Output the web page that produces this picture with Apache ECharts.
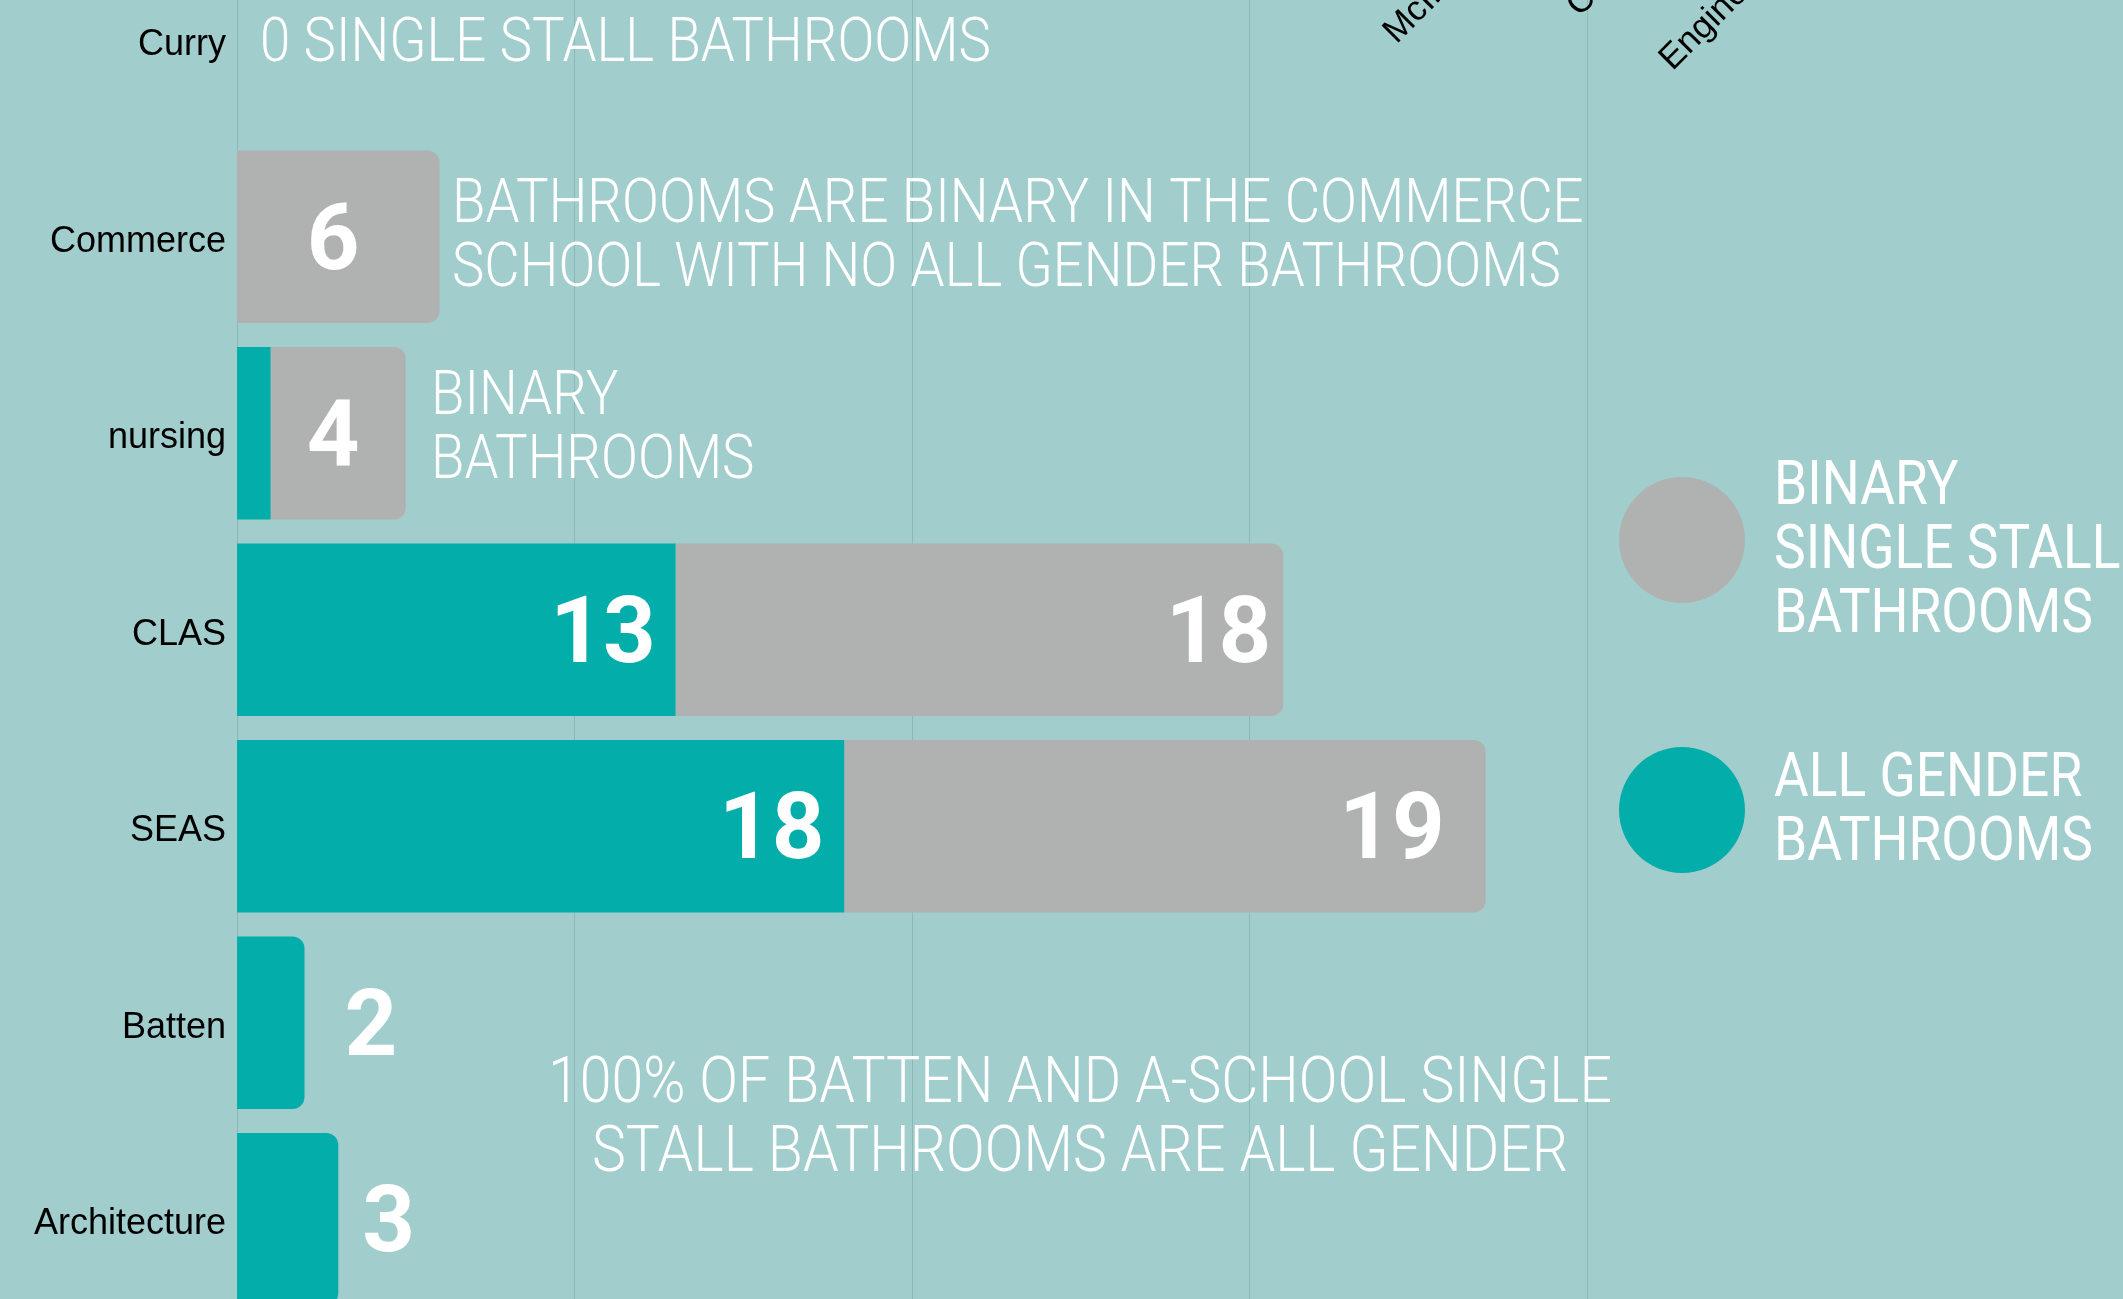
<!DOCTYPE html>
<html>
<head>
<meta charset="utf-8">
<title>Single stall bathrooms by school</title>
<script src="https://cdn.jsdelivr.net/npm/echarts@6/dist/echarts.min.js"></script>
<style>
  html, body { margin: 0; padding: 0; background: #a1cdcc; }
  #chart { width: 2123px; height: 1299px; }
</style>
</head>
<body>
<div id="chart"></div>
<script>
// schools, top to bottom
const schools = ['Curry', 'Commerce', 'nursing', 'CLAS', 'SEAS', 'Batten', 'Architecture'];
// single stall bathrooms per school
const allGender = [0, 0, 1, 13, 18, 2, 3];
const binary = [0, 6, 4, 18, 19, 0, 0];
// value axis
const xMin = 0;
const xMax = 40;
const xStep = 10;
// labels of the chart above, cut off by the picture
const topLabels = ['McIntire', 'Curry', 'Engineering'];

const BG = '#a1cdcc';
const TEAL = '#03adaa';
const GRAY = '#b0b2b1';
const LINE = '#8cb9b8';
const WHITE = '#ffffff';

// where the numbers go on each bar
const tealLabels = {
  CLAS: { position: 'insideRight', distance: 20 },
  SEAS: { position: 'insideRight', distance: 20 },
  Batten: { position: 'right', distance: 40 },
  Architecture: { position: 'right', distance: 24 }
};
const grayLabels = {
  Commerce: { position: 'inside', offset: [-5, 9] },
  nursing: { position: 'inside', offset: [-5, 9] },
  CLAS: { position: 'insideRight', distance: 12 },
  SEAS: { position: 'insideRight', distance: 41 }
};

const numLabel = {
  show: true,
  color: WHITE,
  fontFamily: 'Roboto',
  fontWeight: 'bold',
  fontSize: 92,
  offset: [0, 9],
  formatter: '{c}'
};
const roundEnd = [0, 12, 12, 0];

const labelFor = (cfg) => (cfg ? { ...numLabel, ...cfg } : { show: false });

// white condensed notes (Roboto squeezed a bit)
const note = (x, y, text, opts = {}) => ({
  type: 'text',
  x: x,
  y: y,
  scaleX: opts.squeeze || 0.88,
  z: 10,
  style: {
    text: text,
    fill: WHITE,
    fontFamily: 'Roboto',
    fontSize: opts.size || 62,
    fontWeight: opts.weight || 300,
    lineHeight: opts.lineHeight || 64,
    textAlign: opts.align || 'left',
    textVerticalAlign: 'middle'
  }
});

const tilted = (x, y, text) => ({
  type: 'text',
  x: x,
  y: y,
  rotation: Math.PI / 4,
  z: 10,
  style: {
    text: text,
    fill: '#000',
    fontFamily: 'Liberation Sans, Arial',
    fontSize: 35,
    textAlign: 'left',
    textVerticalAlign: 'bottom'
  }
});

const chart = echarts.init(document.getElementById('chart'));

chart.setOption({
  backgroundColor: BG,
  animation: false,
  grid: {
    left: 237,
    width: 1350,
    top: -58,
    height: 1375.5,
    containLabel: false,
    outerBoundsMode: 'none'
  },
  xAxis: {
    type: 'value',
    min: xMin,
    max: xMax,
    interval: xStep,
    axisLabel: { show: false },
    axisLine: { show: false },
    axisTick: { show: false },
    splitLine: { lineStyle: { color: LINE, width: 1 } }
  },
  yAxis: {
    type: 'category',
    inverse: true,
    data: schools,
    axisLine: { show: true, lineStyle: { color: LINE, width: 1 } },
    axisTick: { show: false },
    axisLabel: {
      color: '#000',
      fontFamily: 'Liberation Sans, Arial',
      fontSize: 36,
      margin: 11,
      // nudge the names a few px below the band centre
      verticalAlign: 'top',
      lineHeight: 10
    }
  },
  series: [
    {
      name: 'All gender',
      type: 'bar',
      stack: 'total',
      barCategoryGap: '12.2%',
      itemStyle: { color: TEAL },
      data: allGender.map((v, i) => ({
        value: v,
        itemStyle: { borderRadius: binary[i] > 0 ? 0 : roundEnd },
        label: labelFor(tealLabels[schools[i]])
      }))
    },
    {
      name: 'Binary',
      type: 'bar',
      stack: 'total',
      itemStyle: { color: GRAY, borderRadius: roundEnd },
      data: binary.map((v, i) => ({
        value: v,
        label: labelFor(grayLabels[schools[i]])
      }))
    }
  ],
  graphic: [
    note(260, 45, '0 SINGLE STALL BATHROOMS'),
    note(452, 238, 'BATHROOMS ARE BINARY IN THE COMMERCE\nSCHOOL WITH NO ALL GENDER BATHROOMS'),
    note(431, 430, 'BINARY\nBATHROOMS'),
    note(1080, 1120, '100% OF BATTEN AND A-SCHOOL SINGLE\nSTALL BATHROOMS ARE ALL GENDER',
      { align: 'center', lineHeight: 69, size: 65 }),
    // legend
    { type: 'circle', shape: { cx: 1682, cy: 540, r: 63 }, style: { fill: GRAY }, z: 10 },
    { type: 'circle', shape: { cx: 1682, cy: 810, r: 63 }, style: { fill: TEAL }, z: 10 },
    note(1774, 552, 'BINARY\nSINGLE STALL\nBATHROOMS', { weight: 400, squeeze: 0.86 }),
    note(1774, 812, 'ALL GENDER\nBATHROOMS', { weight: 400, squeeze: 0.86 }),
    tilted(1402, 50, topLabels[0]),
    tilted(1585, 23, topLabels[1]),
    tilted(1678, 77, topLabels[2])
  ]
});
</script>
</body>
</html>
